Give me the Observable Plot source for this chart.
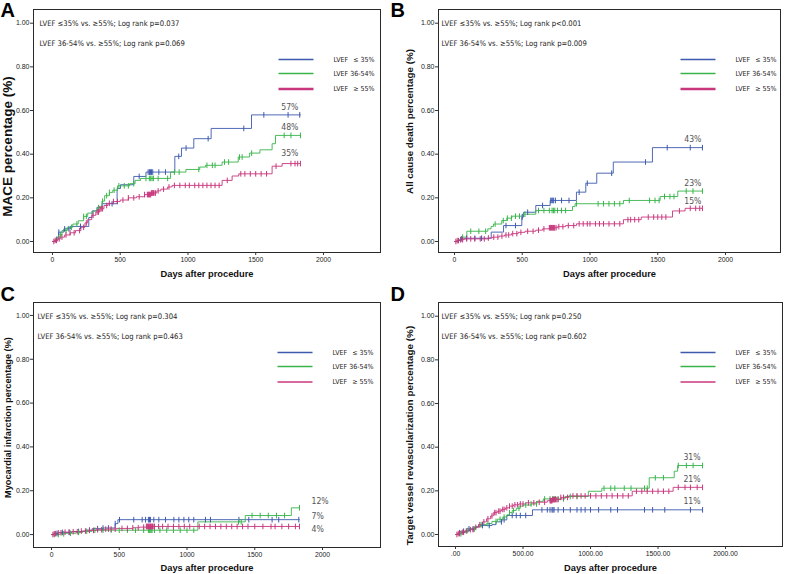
<!DOCTYPE html>
<html><head><meta charset="utf-8">
<script src="https://cdn.jsdelivr.net/npm/d3@7"></script>
<script src="https://cdn.jsdelivr.net/npm/@observablehq/plot@0.6"></script>
<style>
body{margin:0;background:#fff;}
#wrap{position:relative;width:785px;height:574px;overflow:hidden;background:#fff;}
#wrap svg{position:absolute;}
</style></head><body><div id="wrap"></div>
<script>
// ---------- shared labels ----------
const groups = ["LVEF\u2002\u00a0≤ 35%", "LVEF 36-54%", "LVEF\u2002\u00a0≥ 55%"];
const yTicks = [0, 0.2, 0.4, 0.6, 0.8, 1.0];
const yTickLabels = ["0.00", "0.20", "0.40", "0.60", "0.80", "1.00"];
const xTicks = [0, 500, 1000, 1500, 2000];
const xTickLabels = ["0", "500", "1000", "1500", "2000"];
const xTickLabelsD = [".00", "500.00", "1000.00", "1500.00", "2000.00"];
const xTitle = "Days after procedure";

// ---------- Panel A: MACE ----------
const aTitle = "MACE percentage (%)";
const aNotes = ["LVEF ≤35% vs. ≥55%; Log rank p=0.037", "LVEF 36-54% vs. ≥55%; Log rank p=0.069"];
const aPct = ["57%", "48%", "35%"];
const aBlue = [[0,0],[34,0.02],[45,0.043],[84,0.058],[133,0.069],[268,0.11],[292,0.14],[329,0.157],[366,0.173],[477,0.243],[502,0.26],[600,0.298],[690,0.318],[903,0.39],[952,0.428],[1043,0.471],[1171,0.518],[1469,0.58],[1830,0.58]];
const aGreen = [[0,0],[20,0.01],[45,0.03],[70,0.05],[110,0.065],[150,0.08],[190,0.095],[230,0.115],[260,0.13],[300,0.14],[330,0.155],[365,0.185],[385,0.21],[420,0.225],[445,0.235],[480,0.255],[570,0.265],[610,0.28],[650,0.289],[871,0.318],[985,0.33],[1087,0.341],[1129,0.349],[1252,0.364],[1371,0.387],[1455,0.405],[1531,0.42],[1621,0.448],[1646,0.486],[1830,0.486]];
const aPink = [[0,0],[15,0.005],[40,0.012],[60,0.02],[90,0.03],[130,0.04],[170,0.05],[210,0.065],[240,0.085],[260,0.1],[290,0.12],[320,0.135],[350,0.15],[380,0.165],[410,0.175],[450,0.183],[500,0.19],[560,0.2],[620,0.205],[680,0.215],[730,0.222],[770,0.232],[800,0.24],[850,0.25],[883,0.257],[1252,0.28],[1326,0.3],[1375,0.31],[1621,0.345],[1695,0.357],[1830,0.357]];
const aBlueCens = [47,90,121,207,440,640,706,716,724,731,740,785,834,932,986,1149,1412,1560,1739,1825];
const aGreenCens = [30,60,100,140,180,230,250,340,370,400,420,455,490,530,560,600,690,715,725,735,745,780,850,900,935,1080,1140,1180,1200,1270,1300,1380,1400,1470,1710,1760,1830];
const aPinkCens = [10,20,30,50,70,100,130,160,200,230,250,300,330,340,350,360,370,400,420,450,480,520,560,600,640,680,700,705,710,715,720,725,730,735,740,745,750,760,780,820,860,900,940,980,1010,1050,1080,1110,1140,1170,1200,1230,1290,1390,1420,1460,1500,1540,1580,1650,1760,1790,1810,1830];

// ---------- Panel B: All cause death ----------
const bTitle = "All cause death percentage (%)";
const bNotes = ["LVEF ≤35% vs. ≥55%; Log rank p<0.001", "LVEF 36-54% vs. ≥55%; Log rank p=0.009"];
const bPct = ["43%", "23%", "15%"];
const bBlue = [[0,0],[30,0.005],[42,0.012],[80,0.015],[271,0.043],[362,0.073],[497,0.112],[510,0.134],[600,0.165],[706,0.188],[900,0.226],[969,0.267],[1050,0.313],[1172,0.364],[1461,0.43],[1830,0.43]];
const bGreen = [[0,0],[25,0.008],[50,0.02],[91,0.047],[246,0.058],[270,0.069],[288,0.08],[349,0.096],[386,0.107],[423,0.116],[500,0.125],[600,0.142],[871,0.16],[890,0.173],[1247,0.188],[1518,0.206],[1648,0.231],[1830,0.231]];
const bPink = [[0,0],[15,0.004],[40,0.008],[70,0.012],[250,0.016],[280,0.02],[330,0.025],[370,0.03],[420,0.036],[470,0.042],[520,0.047],[600,0.052],[650,0.058],[700,0.063],[760,0.068],[820,0.073],[900,0.081],[1247,0.1],[1378,0.112],[1609,0.14],[1702,0.152],[1830,0.152]];
const bBlueCens = [50,90,150,200,380,450,500,540,650,710,718,725,732,745,790,845,920,980,1160,1410,1570,1740,1830];
const bGreenCens = [60,120,180,230,300,360,390,420,450,480,520,620,660,700,720,730,740,760,790,820,900,1060,1100,1140,1180,1220,1290,1440,1480,1510,1550,1590,1620,1710,1760,1830];
const bPinkCens = [10,20,30,45,60,90,120,150,190,220,250,290,320,350,380,400,430,460,490,540,580,620,660,700,705,710,715,720,725,730,735,740,750,770,800,840,880,920,950,980,1000,1040,1070,1100,1140,1180,1220,1280,1300,1330,1360,1430,1470,1500,1530,1560,1660,1740,1780,1810,1830];

// ---------- Panel C: Myocardial infarction ----------
const cTitle = "Myocardial infarction percentage (%)";
const cNotes = ["LVEF ≤35% vs. ≥55%; Log rank p=0.304", "LVEF 36-54% vs. ≥55%; Log rank p=0.463"];
const cPct = ["7%", "12%", "4%"];
const cBlue = [[0,0],[20,0.005],[50,0.01],[150,0.014],[250,0.02],[300,0.027],[380,0.03],[470,0.05],[490,0.068],[1830,0.068]];
const cGreen = [[0,0],[60,0.003],[100,0.006],[180,0.01],[230,0.015],[300,0.02],[1080,0.058],[1430,0.087],[1770,0.122],[1830,0.122]];
const cPink = [[0,0],[15,0.004],[40,0.008],[80,0.011],[150,0.013],[220,0.016],[280,0.019],[330,0.022],[400,0.025],[480,0.028],[600,0.031],[650,0.034],[700,0.037],[1830,0.037]];
const cBlueCens = [40,80,130,200,280,340,380,420,470,502,607,669,694,715,723,730,755,792,841,903,940,977,1013,1050,1136,1173,1383,1456,1628,1677,1825];
const cGreenCens = [20,50,90,140,200,260,320,380,440,500,560,620,680,715,722,728,735,742,760,800,850,900,950,1000,1050,1380,1400,1480,1540,1600,1660,1720,1830];
const cPinkCens = [10,20,30,50,70,100,130,160,190,220,250,280,310,340,370,400,420,440,470,520,560,600,640,680,700,705,710,715,720,725,730,735,740,745,750,760,790,820,860,900,940,980,1020,1090,1130,1170,1210,1250,1290,1330,1370,1410,1450,1500,1560,1620,1650,1700,1750,1800,1830];

// ---------- Panel D: Target vessel revascularization ----------
const dTitle = "Target vessel revascularization percentage (%)";
const dNotes = ["LVEF ≤35% vs. ≥55%; Log rank p=0.250", "LVEF 36-54% vs. ≥55%; Log rank p=0.602"];
const dPct = ["11%", "31%", "21%"];
const dBlue = [[0,0],[20,0.008],[35,0.015],[84,0.026],[150,0.035],[183,0.041],[270,0.045],[300,0.058],[343,0.067],[380,0.087],[570,0.113],[1830,0.113]];
const dGreen = [[0,0],[30,0.003],[50,0.01],[80,0.018],[110,0.025],[150,0.035],[170,0.045],[230,0.05],[270,0.06],[310,0.07],[350,0.08],[380,0.09],[400,0.1],[420,0.11],[450,0.12],[480,0.13],[500,0.135],[560,0.14],[602,0.152],[650,0.163],[812,0.174],[984,0.198],[1084,0.212],[1435,0.26],[1620,0.29],[1645,0.316],[1830,0.316]];
const dPink = [[0,0],[15,0.004],[40,0.01],[70,0.016],[100,0.022],[140,0.033],[170,0.045],[200,0.058],[230,0.072],[260,0.085],[280,0.1],[310,0.107],[340,0.115],[370,0.122],[400,0.13],[430,0.136],[470,0.14],[520,0.145],[600,0.148],[680,0.155],[720,0.16],[780,0.17],[840,0.177],[1309,0.198],[1612,0.216],[1830,0.216]];
const dBlueCens = [30,60,100,130,200,250,340,360,420,450,480,520,640,680,700,715,722,730,760,800,850,900,930,960,1000,1060,1150,1200,1400,1460,1550,1740,1830];
const dGreenCens = [40,90,140,190,240,300,330,360,400,430,470,520,560,600,660,700,720,730,740,760,800,850,900,1100,1150,1180,1250,1300,1400,1420,1480,1540,1650,1710,1760,1830];
const dPinkCens = [10,20,30,50,60,80,110,130,150,180,210,240,270,290,300,320,330,350,360,380,400,420,440,460,480,500,540,580,620,660,700,705,710,715,720,725,730,735,740,750,760,780,800,830,870,900,930,960,1000,1040,1080,1120,1160,1200,1240,1280,1340,1380,1420,1460,1500,1540,1580,1650,1700,1740,1790,1830];

// ---------- styling ----------
const colors = ["#3D5AAE", "#38B54A", "#C8377D"];
const sans = "'Liberation Sans', Arial, Helvetica, sans-serif";
const narrow = "'Liberation Sans Narrow', 'Arial Narrow', 'DejaVu Sans Condensed', sans-serif";
const tickSym = {draw(c) { c.moveTo(0, -2.8); c.lineTo(0, 2.8); }};
const legendSym = {draw(c) { c.moveTo(0, 0); c.lineTo(35, 0); }};

function stepAt(steps, day) {
  let v = 0;
  for (const [d, val] of steps) if (d <= day) v = val;
  return v;
}

function panel(cfg) {
  const marks = [
    Plot.frame({stroke: "#2a2a2a", strokeWidth: 1}),
    Plot.axisY({ticks: yTicks, tickFormat: d => yTickLabels[yTicks.indexOf(d)], tickSize: 3, tickPadding: 1, fontSize: 7, label: null, stroke: "#333"}),
    Plot.axisX({ticks: xTicks, tickFormat: d => cfg.xLabels[xTicks.indexOf(d)], tickSize: 3, tickPadding: 2, fontSize: 6.8, label: null, stroke: "#333"}),
    Plot.text([cfg.title], {frameAnchor: "left", rotate: -90, textAnchor: "middle", lineAnchor: "middle", dx: cfg.titleDx, dy: cfg.titleDy, fontWeight: "bold", fontSize: cfg.titleSize, fill: "#111"}),
    Plot.text([xTitle], {frameAnchor: "bottom", textAnchor: "middle", dy: cfg.xTitleDy, lineAnchor: "middle", fontWeight: "bold", fontSize: 9.3, fill: "#111"}),
    Plot.text([cfg.letter], {frameAnchor: "top-left", textAnchor: "start", lineAnchor: "bottom", dx: cfg.letterDx, dy: cfg.letterDy, fontWeight: "bold", fontSize: 20, fill: "#000"}),
    Plot.text([cfg.notes[0]], {frameAnchor: "top-left", textAnchor: "start", lineAnchor: "middle", dx: cfg.noteDx, dy: 14, fontFamily: narrow, fontSize: 7.6, fill: "#222"}),
    Plot.text([cfg.notes[1]], {frameAnchor: "top-left", textAnchor: "start", lineAnchor: "middle", dx: cfg.noteDx, dy: 34.5, fontFamily: narrow, fontSize: 7.6, fill: "#222"})
  ];
  const legDy = [50, 64, 79.5];
  cfg.series.forEach((s, k) => {
    marks.push(Plot.dot([groups[k]], {frameAnchor: "top-right", dx: cfg.legLineDx, dy: legDy[k], symbol: legendSym, stroke: colors[k], fill: "none", strokeWidth: cfg.legWidths[k]}));
    marks.push(Plot.text([groups[k]], {frameAnchor: "top-right", textAnchor: "start", lineAnchor: "middle", dx: cfg.legTextDx, dy: legDy[k], fontFamily: narrow, fontSize: 7, fill: "#222"}));
  });
  cfg.series.forEach((s, k) => {
    const pts = s.steps.map(([d, v]) => ({d, v}));
    marks.push(Plot.line(pts, {x: "d", y: "v", curve: "step-after", stroke: colors[k], strokeWidth: 1, strokeOpacity: 0.9}));
  });
  cfg.series.forEach((s, k) => {
    const cens = s.cens.map(d => ({d, v: stepAt(s.steps, d)}));
    marks.push(Plot.dot(cens, {x: "d", y: "v", symbol: tickSym, stroke: colors[k], fill: "none", strokeWidth: 1, r: 3}));
  });
  cfg.series.forEach((s, k) => {
    const last = s.steps[s.steps.length - 1];
    marks.push(Plot.text([{d: last[0], v: last[1], t: s.pct}], {x: "d", y: "v", text: "t", textAnchor: cfg.pctAnchor, dx: cfg.pctDx, dy: s.pctDy, lineAnchor: "middle", fontFamily: narrow, fontSize: 8.6, fill: "#555"}));
  });
  const svg = Plot.plot({
    width: cfg.width, height: cfg.height,
    marginLeft: cfg.m[0], marginRight: cfg.m[1], marginTop: cfg.m[2], marginBottom: cfg.m[3],
    x: {domain: cfg.xDomain}, y: {domain: cfg.yDomain},
    style: {fontFamily: sans, color: "#222", background: "transparent", overflow: "visible"},
    marks
  });
  svg.style.left = cfg.left + "px";
  svg.style.top = cfg.top + "px";
  document.getElementById("wrap").appendChild(svg);
}

panel({
  letter: "A", left: 0, top: 0, width: 390, height: 285, m: [33, 10, 9, 33],
  xDomain: [-140, 2421], yDomain: [-0.0504, 1.0628], xLabels: xTickLabels,
  title: aTitle, titleDx: -26, titleDy: 15.5, titleSize: 13.5, xTitleDy: 22,
  letterDx: -33, letterDy: 7.5, notes: aNotes, noteDx: 6,
  legLineDx: -102, legTextDx: -47, legWidths: [1.3, 1.3, 2.4],
  pctAnchor: "end", pctDx: -2,
  series: [
    {steps: aBlue, cens: aBlueCens, pct: aPct[0], pctDy: -8},
    {steps: aGreen, cens: aGreenCens, pct: aPct[1], pctDy: -8},
    {steps: aPink, cens: aPinkCens, pct: aPct[2], pctDy: -10}
  ]
});
panel({
  letter: "B", left: 390, top: 0, width: 395, height: 285, m: [48, 5, 9, 33],
  xDomain: [-118, 2406], yDomain: [-0.0504, 1.0628], xLabels: xTickLabels,
  title: bTitle, titleDx: -29, titleDy: -9.5, titleSize: 9.8, xTitleDy: 22,
  letterDx: -48, letterDy: 7.5, notes: bNotes, noteDx: 3,
  legLineDx: -100, legTextDx: -45, legWidths: [1.3, 1.3, 2.4],
  pctAnchor: "end", pctDx: -1,
  series: [
    {steps: bBlue, cens: bBlueCens, pct: bPct[0], pctDy: -8},
    {steps: bGreen, cens: bGreenCens, pct: bPct[1], pctDy: -8},
    {steps: bPink, cens: bPinkCens, pct: bPct[2], pctDy: -7}
  ]
});
panel({
  letter: "C", left: 0, top: 285, width: 390, height: 289, m: [33, 10, 17, 27],
  xDomain: [-133, 2428], yDomain: [-0.059, 1.059], xLabels: xTickLabels,
  title: cTitle, titleDx: -25.5, titleDy: -7.5, titleSize: 9.2, xTitleDy: 21,
  letterDx: -33, letterDy: -1.5, notes: cNotes, noteDx: 4,
  legLineDx: -103, legTextDx: -48, legWidths: [1.3, 1.3, 1.6],
  pctAnchor: "start", pctDx: 12,
  series: [
    {steps: cBlue, cens: cBlueCens, pct: cPct[0], pctDy: -3},
    {steps: cGreen, cens: cGreenCens, pct: cPct[1], pctDy: -6.5},
    {steps: cPink, cens: cPinkCens, pct: cPct[2], pctDy: 2.5}
  ]
});
panel({
  letter: "D", left: 390, top: 285, width: 395, height: 289, m: [48, 3, 17, 28],
  xDomain: [-126, 2422], yDomain: [-0.055, 1.0628], xLabels: xTickLabelsD,
  title: dTitle, titleDx: -29, titleDy: 11, titleSize: 9.9, xTitleDy: 21.7,
  letterDx: -48, letterDy: -1.5, notes: dNotes, noteDx: 3,
  legLineDx: -102, legTextDx: -47, legWidths: [1.3, 1.3, 1.6],
  pctAnchor: "end", pctDx: -2,
  series: [
    {steps: dBlue, cens: dBlueCens, pct: dPct[0], pctDy: -8.5},
    {steps: dGreen, cens: dGreenCens, pct: dPct[1], pctDy: -8},
    {steps: dPink, cens: dPinkCens, pct: dPct[2], pctDy: -8}
  ]
});
</script></body></html>
